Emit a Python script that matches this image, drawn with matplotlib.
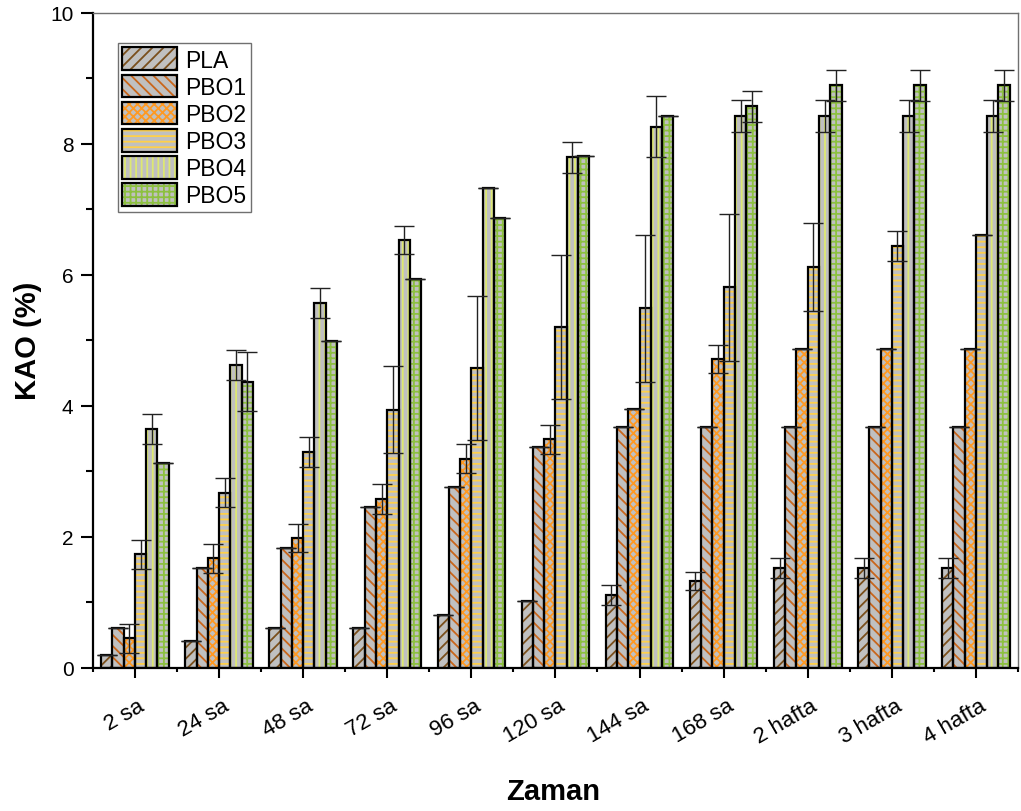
import numpy as np
import matplotlib
matplotlib.use('Agg')
import matplotlib.pyplot as plt
import matplotlib.transforms as mtransforms
from matplotlib.ticker import MultipleLocator, FixedLocator

plt.rcParams['font.family'] = ['Liberation Sans', 'DejaVu Sans']
plt.rcParams['hatch.linewidth'] = 1.3

# data
categories = ['2 sa', '24 sa', '48 sa', '72 sa', '96 sa', '120 sa', '144 sa', '168 sa',
              '2 hafta', '3 hafta', '4 hafta']
series_names = ['PLA', 'PBO1', 'PBO2', 'PBO3', 'PBO4', 'PBO5']

PLA = [0.20, 0.41, 0.61, 0.61, 0.81, 1.02, 1.11, 1.32, 1.52, 1.52, 1.52]
PLA_err = [0, 0, 0, 0, 0, 0, 0.15, 0.14, 0.15, 0.15, 0.15]
PBO1 = [0.61, 1.52, 1.83, 2.45, 2.76, 3.37, 3.67, 3.67, 3.67, 3.67, 3.67]
PBO1_err = [0, 0, 0, 0, 0, 0, 0, 0, 0, 0, 0]
PBO2 = [0.45, 1.67, 1.98, 2.58, 3.19, 3.49, 3.95, 4.71, 4.86, 4.86, 4.86]
PBO2_err = [0.22, 0.22, 0.21, 0.23, 0.22, 0.22, 0, 0.21, 0, 0, 0]
PBO3 = [1.73, 2.67, 3.30, 3.94, 4.57, 5.20, 5.49, 5.81, 6.12, 6.44, 6.60]
PBO3_err = [0.22, 0.22, 0.23, 0.66, 1.10, 1.10, 1.12, 1.12, 0.67, 0.23, 0]
PBO4 = [3.65, 4.62, 5.57, 6.53, 7.32, 7.79, 8.26, 8.42, 8.42, 8.42, 8.42]
PBO4_err = [0.23, 0.23, 0.23, 0.22, 0, 0.24, 0.47, 0.24, 0.24, 0.24, 0.24]
PBO5 = [3.12, 4.37, 4.99, 5.93, 6.87, 7.81, 8.42, 8.57, 8.89, 8.89, 8.89]
PBO5_err = [0, 0.45, 0, 0, 0, 0, 0, 0.24, 0.24, 0.24, 0.24]

values = [PLA, PBO1, PBO2, PBO3, PBO4, PBO5]
errors = [PLA_err, PBO1_err, PBO2_err, PBO3_err, PBO4_err, PBO5_err]

hatches = ['///', '\\\\\\', 'xxxx', '---', '|||', '+++']
hatch_colors = ['#7a4f1c', '#c9661b', '#ff9922', '#ffd04a', '#dde872', '#8dc040']
face = '#c0c0c0'

fig = plt.figure(figsize=(10.21, 8.12), dpi=100)
ax = fig.add_axes([0.091, 0.1764, 0.906, 0.8067])

x = np.arange(len(categories))
w = 0.134
handles = []
for i, name in enumerate(series_names):
    pos = x + (i - 2.5) * w
    b1 = ax.bar(pos, values[i], w, color=face, edgecolor=hatch_colors[i],
                hatch=hatches[i], linewidth=0, zorder=2)
    b2 = ax.bar(pos, values[i], w, fill=False, edgecolor='black',
                linewidth=1.6, zorder=3)
    ax.errorbar(pos, values[i], yerr=errors[i], fmt='none', ecolor='#222222',
                elinewidth=1.0, capsize=7.5, capthick=1.0, zorder=4)
    handles.append((b1[0], b2[0]))

ax.set_xlim(-0.5, 10.5)
ax.set_ylim(0, 10)
ax.yaxis.set_major_locator(MultipleLocator(2))
ax.yaxis.set_minor_locator(MultipleLocator(1))
ax.set_xticks(x)
ax.set_xticklabels([])
ax.xaxis.set_minor_locator(FixedLocator(np.arange(-0.5, 10.6, 1.0)))

# rotated category labels, anchored at the right end of the baseline
lab_tr = ax.get_xaxis_transform() + mtransforms.ScaledTranslation(0.11, -0.41, fig.dpi_scale_trans)
for xi, cat in zip(x, categories):
    ax.text(xi, 0, cat, transform=lab_tr, rotation=30, rotation_mode='anchor',
            ha='right', va='baseline', fontsize=16)

ax.tick_params(axis='x', which='major', direction='out', length=7, width=1.5)
ax.tick_params(axis='x', which='minor', direction='out', length=3, width=1.5)
ax.tick_params(axis='y', which='major', direction='out', length=8.5, width=1.5,
               pad=5.5, labelsize=15)
ax.tick_params(axis='y', which='minor', direction='out', length=5, width=1.5)

for s in ['left', 'bottom']:
    ax.spines[s].set_linewidth(1.6)
    ax.spines[s].set_color('black')
for s in ['top', 'right']:
    ax.spines[s].set_linewidth(1.0)
    ax.spines[s].set_color('#707070')

ax.set_xlabel('Zaman', fontsize=21, fontweight='bold')
ax.xaxis.set_label_coords(0.498, -0.188)
ax.xaxis.label.set_va('center')
ax.set_ylabel('KAO (%)', fontsize=21, fontweight='bold')
ax.yaxis.set_label_coords(-0.070, 0.500)
ax.yaxis.label.set_va('center')

leg = ax.legend(handles, series_names, loc='upper left', bbox_to_anchor=(0.027, 0.954),
                borderaxespad=0, fontsize=16.5, handlelength=2.4, handleheight=1.15,
                handletextpad=0.35, borderpad=0.2, labelspacing=0.13,
                fancybox=False, framealpha=1, edgecolor='#707070')
leg.get_frame().set_linewidth(1.0)

fig.savefig('out.png', dpi=100)
